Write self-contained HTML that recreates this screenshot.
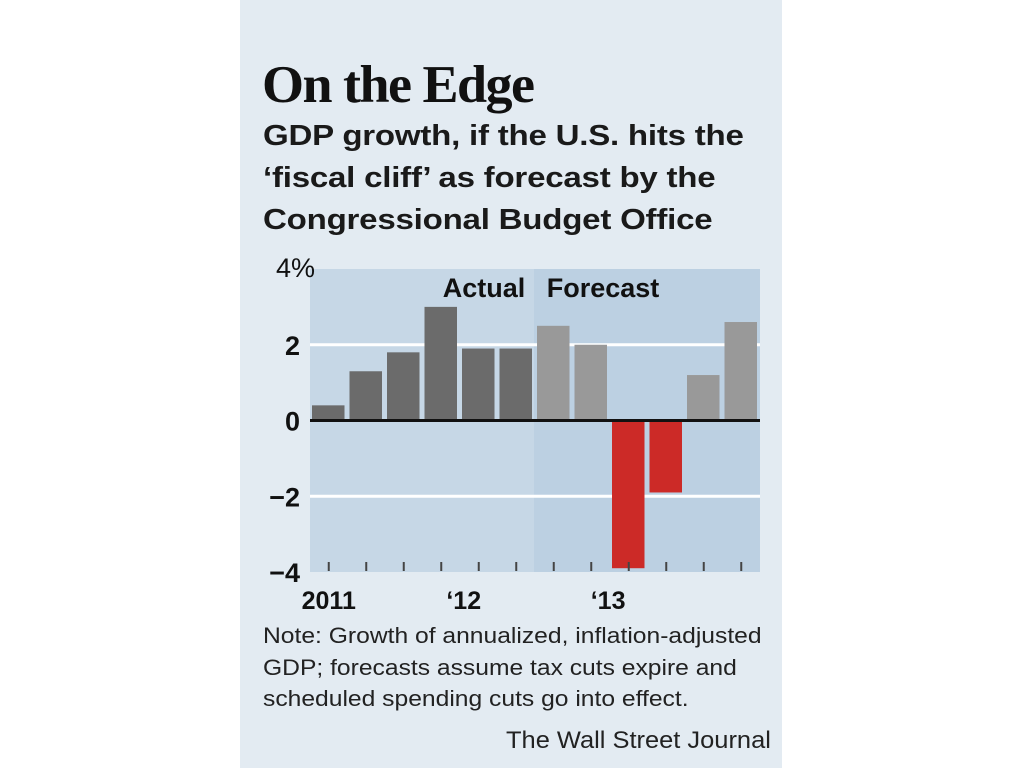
<!DOCTYPE html>
<html><head><meta charset="utf-8"><style>
body{margin:0;width:1024px;height:768px;background:#fff;overflow:hidden;font-family:"Liberation Sans",sans-serif}
#card{position:absolute;left:240px;top:0;width:542px;height:768px;background:#e3ebf2}
.t{position:absolute;color:#111;white-space:nowrap;transform-origin:left top}
</style></head><body>
<div id="card"></div>
<div class="t" style="left:262px;top:55px;font-family:'Liberation Serif',serif;font-weight:bold;font-size:53px;letter-spacing:-1.5px;transform:scaleX(1.02)">On the Edge</div>
<div class="t" style="left:263px;top:115px;font-size:29px;font-weight:bold;line-height:42px;letter-spacing:-0.2px;color:#1a1a1a;transform:scaleX(1.14)">GDP growth, if the U.S. hits the<br>‘fiscal cliff’ as forecast by the<br>Congressional Budget Office</div>
<svg id="chart" width="1024" height="768" style="position:absolute;left:0;top:0"></svg>
<div class="t" style="left:263px;top:620px;font-size:22px;line-height:31.5px;color:#222;transform:scaleX(1.12)">Note: Growth of annualized, inflation-adjusted<br>GDP; forecasts assume tax cuts expire and<br>scheduled spending cuts go into effect.</div>
<div class="t" style="left:506px;top:727px;font-size:24px;color:#222;transform:scaleX(1.06)">The Wall Street Journal</div>
<script>
const values=[0.4,1.3,1.8,3.0,1.9,1.9,2.5,2.0,-3.9,-1.9,1.2,2.6];
const isForecast=[0,0,0,0,0,0,1,1,1,1,1,1];
const yTicks=[4,2,0,-2,-4];
const yTickLabels=["4%","2","0","−2","−4"];
const xLabels=["2011","‘12","‘13"];
const xLabelPos=[0.5,4.1,7.95];
const L=310,R=760,T=269,B=572,ymin=-4,ymax=4,n=values.length;
const sw=(R-L)/n;
const y=v=>T+(ymax-v)/(ymax-ymin)*(B-T);
const x=i=>L+i*sw;
const svg=document.getElementById('chart');
const NS='http://www.w3.org/2000/svg';
function mk(t,a){const e=document.createElementNS(NS,t);for(const k in a)e.setAttribute(k,a[k]);svg.appendChild(e);return e;}
let e=mk('rect',{x:L,y:T,width:R-L,height:B-T,fill:'#c6d7e6'});


e=mk('rect',{x:x(6)-1,y:T,width:R-x(6)+1,height:B-T,fill:'#bcd0e2'});


yTicks.forEach((v,i)=>{
 if(v!==0&&v!==4&&v!==-4){e=mk('line',{x1:L,x2:R,y1:y(v),y2:y(v),stroke:'#fff','stroke-width':3});
 
 }
 e=mk('text',{x:v===4?276:300,y:y(v)+(v===4?8:10),'text-anchor':v===4?'start':'end','font-size':27,'font-weight':v===4?'normal':'bold',fill:'#111','font-family':'Liberation Sans,sans-serif'});
 e.textContent=yTickLabels[i];
 
 
});
values.forEach((v,i)=>{
 const c=v<0?'#cc2a27':(isForecast[i]?'#999999':'#6b6b6b');
 e=mk('rect',{x:x(i)+2,y:Math.min(y(v),y(0)),width:sw-5,height:Math.abs(y(v)-y(0)),fill:c});
 
 
 e=mk('line',{x1:x(i)+sw/2,x2:x(i)+sw/2,y1:B-10,y2:B-1,stroke:'#444','stroke-width':2});
 
 
});
e=mk('line',{x1:L,x2:R,y1:y(0),y2:y(0),stroke:'#111','stroke-width':3});


xLabels.forEach((s,i)=>{
 e=mk('text',{x:x(xLabelPos[i]),y:609,'text-anchor':'middle','font-size':25,'font-weight':'bold',fill:'#111','font-family':'Liberation Sans,sans-serif'});
 e.textContent=s;
 
 
});
[['Actual',484],['Forecast',603]].forEach(([s,cx])=>{
 e=mk('text',{x:cx,y:297,'text-anchor':'middle','font-size':27,'font-weight':'bold',fill:'#111','font-family':'Liberation Sans,sans-serif'});
 e.textContent=s;
 
 
});
</script>
</body></html>
